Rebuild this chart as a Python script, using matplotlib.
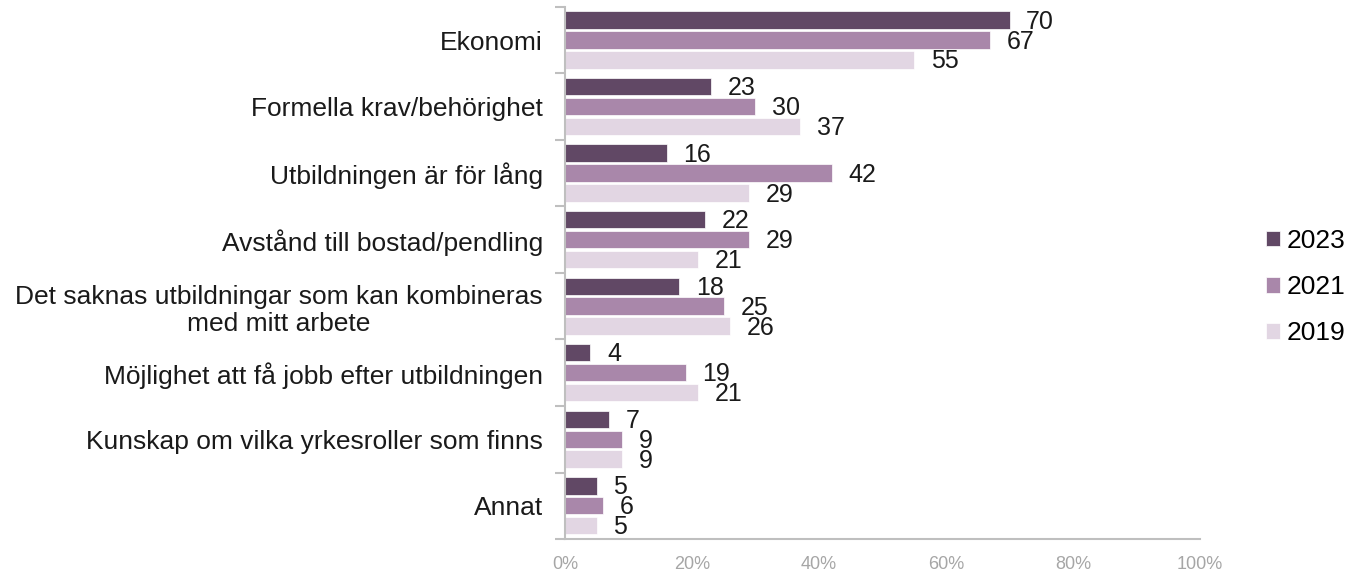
import numpy as np
import matplotlib.pyplot as plt
from matplotlib.ticker import FixedLocator, PercentFormatter

plt.rcParams["font.family"] = ["Liberation Sans", "DejaVu Sans"]

# ---------------------------------------------------------------------------
# Data
# ---------------------------------------------------------------------------
categories = [
    "Ekonomi",
    "Formella krav/behörighet",
    "Utbildningen är för lång",
    "Avstånd till bostad/pendling",
    "Det saknas utbildningar som kan kombineras\nmed mitt arbete",
    "Möjlighet att få jobb efter utbildningen",
    "Kunskap om vilka yrkesroller som finns",
    "Annat",
]
years = ["2023", "2021", "2019"]
vals_2023 = [70, 23, 16, 22, 18, 4, 7, 5]
vals_2021 = [67, 30, 42, 29, 25, 19, 9, 6]
vals_2019 = [55, 37, 29, 21, 26, 21, 9, 5]

COLORS = ["#614865", "#a987aa", "#e2d6e3"]
AXIS_GREY = "#bfbfbf"
TEXT = "#1a1a1a"

fig = plt.figure(figsize=(13.5, 5.71), dpi=100)
ax = fig.add_axes([0.4185, 0.056, 0.4704, 0.932])

y = np.arange(len(categories))
step = 0.3
height = 0.262
for k, (label, vals, col) in enumerate(zip(years, [vals_2023, vals_2021, vals_2019], COLORS)):
    pos = y + (k - 1) * step
    bars = ax.barh(pos, vals, height=height, color=col, label=label,
                   edgecolor="white", linewidth=0.5)
    for b, v in zip(bars, vals):
        ax.annotate(str(v), (b.get_width(), b.get_y() + b.get_height() / 2),
                    xytext=(12, -1), textcoords="offset points",
                    ha="left", va="center", fontsize=18, color=TEXT)

ax.set_xlim(0, 100)
ax.set_ylim(len(categories) - 0.5, -0.5)

# x axis
ax.set_xticks(np.arange(0, 101, 20))
ax.xaxis.set_major_formatter(PercentFormatter(decimals=0))
ax.tick_params(axis="x", length=0, labelsize=13, labelcolor="#a6a6a6", pad=12)

# y axis: boundary ticks as major, category labels on minor ticks
ax.yaxis.set_major_locator(FixedLocator(np.arange(-0.5, len(categories), 1.0)))
ax.yaxis.set_minor_locator(FixedLocator(y))
ax.set_yticklabels([], minor=False)
ax.set_yticklabels(categories, minor=True, fontsize=19, color=TEXT)
ax.tick_params(axis="y", which="major", length=7.5, color=AXIS_GREY, width=1.5)
ax.tick_params(axis="y", which="minor", length=0, pad=16)
for t in ax.get_yticklabels(minor=True):
    t.set_multialignment("center")

for side in ["top", "right"]:
    ax.spines[side].set_visible(False)
for side in ["left", "bottom"]:
    ax.spines[side].set_color(AXIS_GREY)
    ax.spines[side].set_linewidth(1.5)

fig.legend(loc="center left", bbox_to_anchor=(0.920, 0.497), frameon=False,
           fontsize=19, handlelength=0.53, handleheight=0.53,
           handletextpad=0.25, labelspacing=0.84)

fig.savefig("out.png", dpi=100, facecolor="white")
